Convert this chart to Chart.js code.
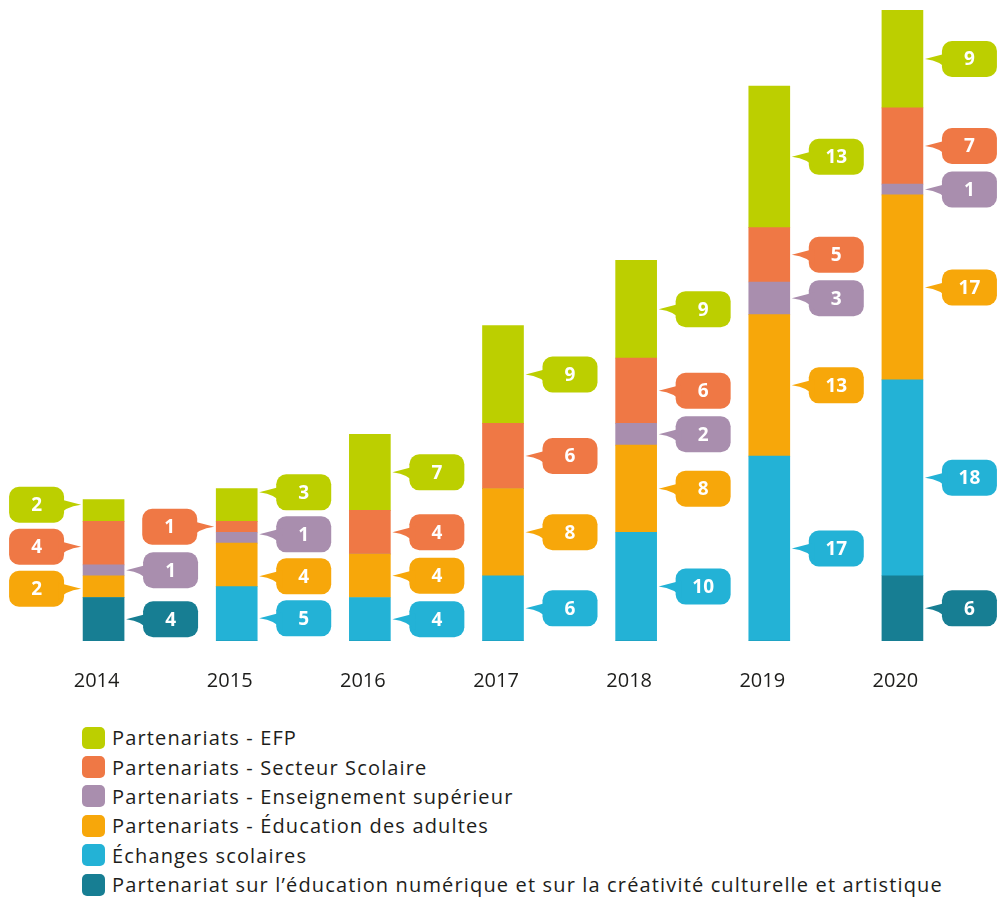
<!DOCTYPE html>
<html>
<head>
<meta charset="utf-8">
<script src="https://cdn.jsdelivr.net/npm/chart.js@4.4.1/dist/chart.umd.min.js"></script>
<style>
    body { margin: 0; background: #fff; font-family: "Open Sans", sans-serif; }
    #wrap { position: relative; width: 999px; height: 713px; }
    #legend { position: absolute; left: 82px; top: 723px; color: #1d1d1b; font-size: 20px; letter-spacing: 1.15px; }
    .item { display: flex; align-items: center; height: 29.4px; }
    .box { width: 23px; height: 22px; border-radius: 5px; margin-right: 7px; }
</style>
</head>
<body>
<div id="wrap"><canvas id="chart"></canvas></div>
<div id="legend"></div>
<script>
const years = ['2014', '2015', '2016', '2017', '2018', '2019', '2020'];

// stacked from the bottom up
const numerique = [4, 0, 0, 0, 0, 0, 6];
const echanges = [0, 5, 4, 6, 10, 17, 18];
const adultes = [2, 4, 4, 8, 8, 13, 17];
const superieur = [1, 1, 0, 0, 2, 3, 1];
const scolaire = [4, 1, 4, 6, 6, 5, 7];
const efp = [2, 3, 7, 9, 9, 13, 9];

const names = [
    'Partenariat sur l’éducation numérique et sur la créativité culturelle et artistique',
    'Échanges scolaires',
    'Partenariats - Éducation des adultes',
    'Partenariats - Enseignement supérieur',
    'Partenariats - Secteur Scolaire',
    'Partenariats - EFP'
];
const colors = ['#177e93', '#23b2d6', '#f7a70a', '#a98eae', '#ef7845', '#bccf00'];

// callouts drawn on the left of the bar instead of the right (by dataset index)
const leftCallouts = { 0: [2, 4, 5], 1: [4] };

const series = [numerique, echanges, adultes, superieur, scolaire, efp];

function spread(items, gap) {
    items.sort((a, b) => a.want - b.want);
    const clusters = [];
    items.forEach(it => {
        clusters.push({ items: [it], sum: it.want });
        while (clusters.length > 1) {
            const c = clusters[clusters.length - 1];
            const p = clusters[clusters.length - 2];
            const cTop = c.sum / c.items.length - (c.items.length - 1) * gap / 2;
            const pBot = p.sum / p.items.length + (p.items.length - 1) * gap / 2;
            if (cTop - pBot >= gap) break;
            p.items = p.items.concat(c.items);
            p.sum += c.sum;
            clusters.pop();
        }
    });
    clusters.forEach(c => {
        const start = c.sum / c.items.length - (c.items.length - 1) * gap / 2;
        c.items.forEach((it, k) => { it.y = start + k * gap; });
    });
}

function drawBubble(ctx, tipX, cy, dir, color, text) {
    const w = 55, h = 36;
    const near = tipX + dir * 17;
    const x0 = dir > 0 ? near : near - w;
    ctx.fillStyle = color;
    ctx.beginPath();
    ctx.roundRect(x0, cy - h / 2, w, h, 10);
    ctx.fill();
    ctx.beginPath();
    ctx.moveTo(tipX, cy);
    ctx.lineTo(near + dir * 6, cy - 6);
    ctx.lineTo(near + dir * 6, cy + 12);
    ctx.quadraticCurveTo(near, cy + 2, tipX, cy);
    ctx.fill();
    ctx.fillStyle = '#fff';
    ctx.font = 'bold 19px "Open Sans"';
    ctx.textAlign = 'center';
    ctx.textBaseline = 'middle';
    ctx.fillText(text, x0 + w / 2, cy + 1);
}

const calloutPlugin = {
    id: 'callouts',
    afterDatasetsDraw(chart) {
        const ctx = chart.ctx;
        years.forEach((y, i) => {
            const groups = { left: [], right: [] };
            chart.data.datasets.forEach((ds, d) => {
                const v = ds.data[i];
                if (!v) return;
                const bar = chart.getDatasetMeta(d).data[i];
                const side = (leftCallouts[i] || []).includes(d) ? 'left' : 'right';
                groups[side].push({
                    want: (bar.y + bar.base) / 2,
                    tipX: side === 'left' ? bar.x - bar.width / 2 - 2 : bar.x + bar.width / 2 + 2,
                    dir: side === 'left' ? -1 : 1,
                    color: ds.backgroundColor,
                    text: String(v)
                });
            });
            ['left', 'right'].forEach(s => {
                spread(groups[s], 42);
                groups[s].forEach(it => drawBubble(ctx, it.tipX, it.y, it.dir, it.color, it.text));
            });
        });
    }
};

new Chart(document.getElementById('chart'), {
    type: 'bar',
    data: {
        labels: years,
        datasets: series.map((data, d) => ({
            label: names[d],
            data: data,
            backgroundColor: colors[d],
            barThickness: 41
        }))
    },
    options: {
        responsive: true,
        maintainAspectRatio: false,
        animation: false,
        layout: { padding: { left: 37, right: 30, top: 10, bottom: 0 } },
        plugins: { legend: { display: false }, tooltip: { enabled: false } },
        scales: {
            x: {
                stacked: true,
                grid: { display: false },
                border: { display: false },
                ticks: { color: '#1d1d1b', font: { family: 'Open Sans', size: 20 }, padding: 20, labelOffset: -7 }
            },
            y: {
                stacked: true,
                display: false,
                min: 0,
                max: 58
            }
        }
    },
    plugins: [calloutPlugin]
});

const legend = document.getElementById('legend');
for (let d = names.length - 1; d >= 0; d--) {
    const row = document.createElement('div');
    row.className = 'item';
    row.innerHTML = '<span class="box" style="background:' + colors[d] + '"></span><span>' + names[d] + '</span>';
    legend.appendChild(row);
}
</script>
</body>
</html>
